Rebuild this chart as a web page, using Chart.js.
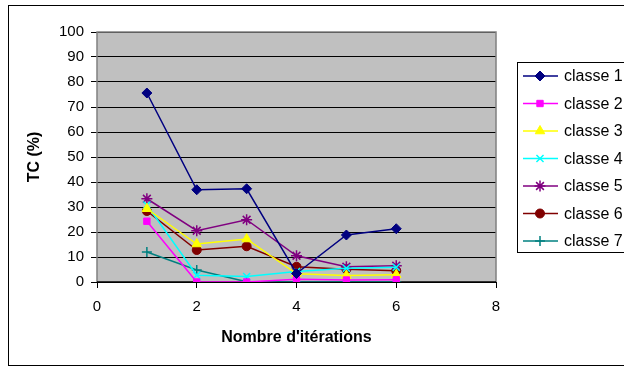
<!DOCTYPE html>
<html>
<head>
<meta charset="utf-8">
<script src="https://cdn.jsdelivr.net/npm/chart.js@4/dist/chart.umd.min.js"></script>
<style>
  html, body { margin: 0; padding: 0; background: #fff; }
  #wrap { width: 624px; height: 367px; overflow: hidden; }
</style>
</head>
<body>
<div id="wrap"><canvas id="tcChart" width="624" height="367"></canvas></div>
<script>
// iterations (x) and TC (%) per class
let iterations = [1, 2, 3, 4, 5, 6];
let classe1 = [75.6, 36.9, 37.3, 3.4, 18.8, 21.3];
let classe2 = [24.3, 0, 0, 1.1, 0.8, 0.9];
let classe3 = [29.3, 15.2, 17.2, 3.3, 2.6, 2.9];
let classe4 = [30.8, 2.7, 2.2, 4.2, 5.5, 5.9];
let classe5 = [33.3, 20.5, 24.9, 10.5, 6.1, 6.5];
let classe6 = [28.4, 12.8, 14.3, 6.1, 5.1, 4.5];
let classe7 = [12.0, 4.8, 0.1, 0, 0, 0];

let seriesNames = ['classe 1', 'classe 2', 'classe 3', 'classe 4', 'classe 5', 'classe 6', 'classe 7'];
let seriesValues = [classe1, classe2, classe3, classe4, classe5, classe6, classe7];
let seriesColors = ['#000080', '#FF00FF', '#FFFF00', '#00FFFF', '#800080', '#800000', '#008080'];
let seriesMarkers = ['rectRot', 'rect', 'triangle', 'crossRot', 'star', 'circle', 'cross'];
let markerSizes = [5, 4.5, 5.5, 5, 5.5, 4.5, 5];

let xTicks = [0, 2, 4, 6, 8];
let yTicks = [0, 10, 20, 30, 40, 50, 60, 70, 80, 90, 100];

const FONT = 'Arial, "Liberation Sans", sans-serif';

let datasets = seriesNames.map((name, i) => ({
    label: name,
    data: iterations.map((x, j) => ({ x: x, y: seriesValues[i][j] })),
    showLine: true,
    borderColor: seriesColors[i],
    backgroundColor: seriesColors[i],
    borderWidth: 1.5,
    pointStyle: seriesMarkers[i],
    pointRadius: markerSizes[i],
    pointBorderWidth: (seriesMarkers[i] === 'crossRot' || seriesMarkers[i] === 'star' || seriesMarkers[i] === 'cross') ? 1.5 : 1,
    pointBackgroundColor: seriesColors[i],
    pointBorderColor: seriesColors[i]
}));

// grey plot area, outer frame and plot border
const frame = {
    id: 'frame',
    beforeDraw(chart) {
        const { ctx, chartArea: a } = chart;
        ctx.save();
        ctx.fillStyle = '#C0C0C0';
        ctx.fillRect(a.left, a.top, a.right - a.left, a.bottom - a.top);
        ctx.strokeStyle = '#000';
        ctx.lineWidth = 1;
        ctx.strokeRect(8.5, 5.5, 700, 360);
        ctx.restore();
    },
    beforeDatasetsDraw(chart) {
        const { ctx, chartArea: a } = chart;
        ctx.save();
        ctx.strokeStyle = '#808080';
        ctx.lineWidth = 1.5;
        ctx.beginPath();
        ctx.moveTo(a.left, a.bottom);
        ctx.lineTo(a.left, a.top);
        ctx.lineTo(a.right, a.top);
        ctx.lineTo(a.right, a.bottom);
        ctx.stroke();
        ctx.strokeStyle = '#000';
        ctx.beginPath();
        ctx.moveTo(a.left, a.bottom);
        ctx.lineTo(a.right, a.bottom);
        ctx.stroke();
        ctx.restore();
    }
};

// legend box at the right, cut by the page edge
const sideLegend = {
    id: 'sideLegend',
    afterDraw(chart) {
        const ctx = chart.ctx;
        ctx.save();
        ctx.fillStyle = '#fff';
        ctx.fillRect(517, 62, 200, 190);
        ctx.strokeStyle = '#000';
        ctx.lineWidth = 1;
        ctx.strokeRect(517.5, 62.5, 200, 190);
        ctx.font = '16px ' + FONT;
        ctx.textBaseline = 'middle';
        chart.data.datasets.forEach((ds, i) => {
            let y = 76 + i * 27.5;
            ctx.strokeStyle = ds.borderColor;
            ctx.lineWidth = 1.5;
            ctx.beginPath();
            ctx.moveTo(523, y);
            ctx.lineTo(558, y);
            ctx.stroke();
            ctx.fillStyle = ds.pointBackgroundColor;
            ctx.strokeStyle = ds.pointBorderColor;
            ctx.lineWidth = ds.pointBorderWidth;
            Chart.helpers.drawPoint(ctx, {
                pointStyle: ds.pointStyle,
                radius: ds.pointRadius,
                rotation: 0,
                borderWidth: ds.pointBorderWidth
            }, 540, y);
            ctx.fillStyle = '#000';
            ctx.fillText(ds.label, 564, y + 1);
        });
        ctx.restore();
    }
};

let ctx = document.getElementById('tcChart').getContext('2d');
let tcChart = new Chart(ctx, {
    type: 'scatter',
    data: { datasets: datasets },
    plugins: [frame, sideLegend],
    options: {
        responsive: false,
        animation: false,
        layout: { padding: { left: 0, top: 32, right: 128, bottom: 0 } },
        plugins: {
            legend: { display: false },
            tooltip: { enabled: false }
        },
        scales: {
            x: {
                type: 'linear',
                min: 0,
                max: 8,
                afterBuildTicks: (scale) => { scale.ticks = xTicks.map(v => ({ value: v })); },
                afterFit: (scale) => { scale.height = 85; },
                grid: { color: 'transparent', tickColor: '#000', tickLength: 6, drawOnChartArea: false },
                border: { display: false },
                ticks: { color: '#000', padding: 10, font: { family: FONT, size: 15 } },
                title: {
                    display: true,
                    text: "Nombre d'itérations",
                    color: '#000',
                    font: { family: FONT, size: 16, weight: 'bold' },
                    padding: { top: 0, bottom: 20 }
                }
            },
            y: {
                min: 0,
                max: 100,
                afterBuildTicks: (scale) => { scale.ticks = yTicks.map(v => ({ value: v })); },
                afterFit: (scale) => { scale.width = 97; },
                grid: { color: '#000', lineWidth: 1, tickColor: '#000', tickLength: 6 },
                border: { display: false },
                ticks: { color: '#000', padding: 7, font: { family: FONT, size: 15 } },
                title: {
                    display: true,
                    text: 'TC (%)',
                    color: '#000',
                    font: { family: FONT, size: 16, weight: 'bold' },
                    padding: { top: 25, bottom: 0 }
                }
            }
        }
    }
});
</script>
</body>
</html>
